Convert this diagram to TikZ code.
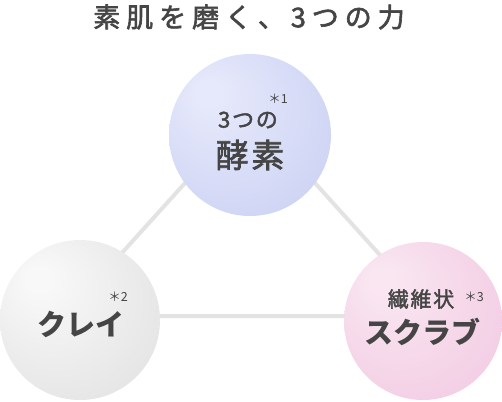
\documentclass[tikz,border=0pt]{standalone}
\usepackage{fontspec}
\setmainfont{Noto Sans CJK JP}
\newfontfamily\titlefont[LetterSpace=22, FakeBold=2.2]{Noto Sans CJK JP}
\newfontfamily\labelfont[LetterSpace=8, FakeBold=2]{Noto Sans CJK JP}

\definecolor{textgray}{HTML}{454545}
\definecolor{linegray}{HTML}{E3E3E3}
\definecolor{enzymein}{HTML}{E6E9FB}
\definecolor{enzymeout}{HTML}{C0C7F0}
\definecolor{clayin}{HTML}{F8F8F8}
\definecolor{clayout}{HTML}{D9D9D9}
\definecolor{scrubin}{HTML}{F9E6F1}
\definecolor{scrubout}{HTML}{F0BFDD}

\pgfdeclareradialshading{enzymeball}{\pgfpoint{-14bp}{14bp}}{color(0bp)=(enzymein); color(4bp)=(enzymein); color(52bp)=(enzymeout)}
\pgfdeclareradialshading{clayball}{\pgfpoint{-14bp}{14bp}}{color(0bp)=(clayin); color(4bp)=(clayin); color(52bp)=(clayout)}
\pgfdeclareradialshading{scrubball}{\pgfpoint{-14bp}{14bp}}{color(0bp)=(scrubin); color(4bp)=(scrubin); color(52bp)=(scrubout)}

\tikzset{
  ball/.style={circle, inner sep=0pt, minimum size=#1},
  ball/.default=160pt,
  word/.style={text=textgray, inner sep=0pt},
  note/.style={text=textgray, inner sep=0pt, font=\fontsize{12.5}{12.5}\selectfont}
}

\begin{document}
\begin{tikzpicture}[x=1pt, y=-1pt]
            \useasboundingbox (0,0) rectangle (502,401);

            % triangle behind the balls
            \coordinate (T) at (250,111);
            \coordinate (L) at (65,316);
            \coordinate (R) at (435,316);
            \draw [linegray, line width=4pt] (T) -- (L) -- (R) -- cycle;

            \node (Title) at (249,17) [word, font=\titlefont\fontsize{27}{27}\selectfont] {素肌を磨く、3つの力};

            \node [ball=162pt, shading=enzymeball] (E) at (250,135) {};
            \node [ball=160pt, shading=clayball] (C) at (80,320) {};
            \node [ball=158pt, shading=scrubball] (S) at (423,321) {};

            \node (E1) at (248,120) [word, font=\labelfont\fontsize{22}{22}\selectfont] {3つの};
            \node (E2) at (250,155) [word, font=\labelfont\fontsize{33}{33}\selectfont] {酵素};
            \node (N1) at (278,99) [note] {＊1};

            \node (C1) at (81,324) [word, font=\bfseries\fontsize{29}{29}\selectfont] {クレイ};
            \node (N2) at (118,297) [note] {＊2};

            \node (S1) at (421,299) [word, font=\labelfont\fontsize{21}{21}\selectfont] {繊維状};
            \node (S2) at (422,332) [word, font=\bfseries\fontsize{29}{29}\selectfont] {スクラブ};
            \node (N3) at (474,297) [note] {＊3};
        \end{tikzpicture}
\end{document}
